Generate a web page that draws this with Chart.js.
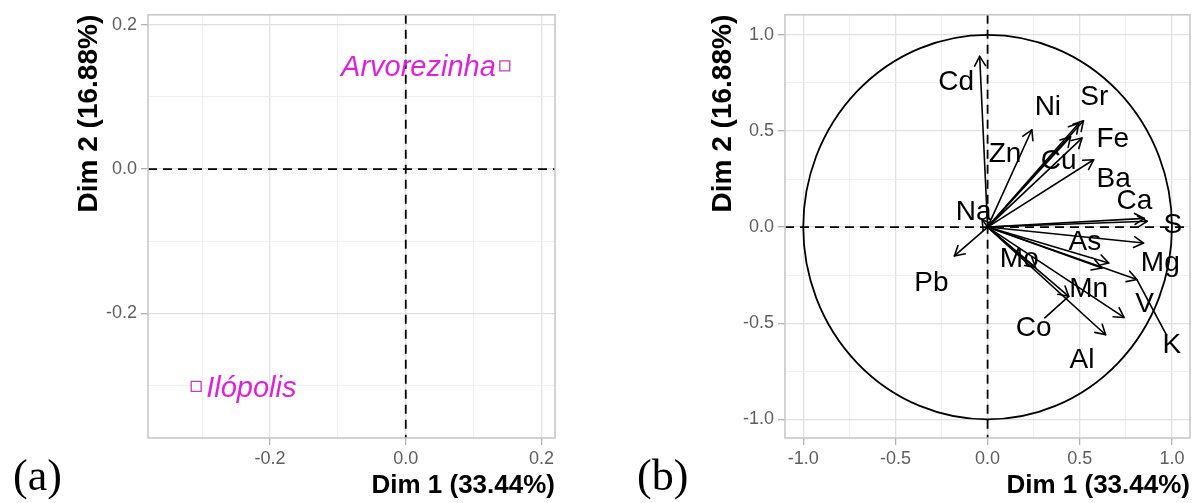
<!DOCTYPE html>
<html><head><meta charset="utf-8">
<script src="https://cdn.jsdelivr.net/npm/chart.js@4.4.0/dist/chart.umd.min.js"></script>
<style>
html,body{margin:0;padding:0;background:#fff;}
#wrap{position:relative;width:1192px;height:503px;overflow:hidden;background:#fff;}
canvas{position:absolute;top:0;}
</style></head><body>
<div id="wrap">
<canvas id="ca" width="596" height="503" style="left:0px"></canvas>
<canvas id="cb" width="596" height="503" style="left:596px"></canvas>
</div>
<script>
// ---------- Panel (a): individuals ----------
const indNames = ['Arvorezinha', 'Ilópolis'];
const indDim1 = [0.146, -0.309];
const indDim2 = [0.143, -0.301];
const xMajorA = [-0.2, 0.0, 0.2];
const xMinorA = [-0.3, -0.1, 0.1];
const yMajorA = [-0.2, 0.0, 0.2];
const yMinorA = [-0.3, -0.1, 0.1];

// ---------- Panel (b): variables ----------
const varNames = ['Cd','Zn','Ni','Sr','Cu','Fe','Ba','Ca','S','Na','As','Mg','Mo','Mn','V','K','Co','Al','Pb'];
const varDim1 = [-0.043, 0.24, 0.495, 0.52, 0.45, 0.512, 0.575, 0.85, 0.866, -0.03, 0.657, 0.846, 0.26, 0.62, 0.74, 0.81, 0.44, 0.64, -0.18];
const varDim2 = [0.888, 0.506, 0.54, 0.553, 0.47, 0.463, 0.35, 0.045, 0.03, 0.04, -0.187, -0.083, -0.21, -0.213, -0.47, -0.273, -0.36, -0.56, -0.15];
// repelled label positions (data units)
const varLabelDim1 = [-0.171, 0.095, 0.327, 0.579, 0.385, 0.679, 0.684, 0.796, 1.005, -0.076, 0.528, 0.937, 0.172, 0.548, 0.851, 1.0, 0.25, 0.512, -0.305];
const varLabelDim2 = [0.752, 0.381, 0.622, 0.674, 0.341, 0.454, 0.246, 0.133, 0.009, 0.077, -0.078, -0.188, -0.165, -0.321, -0.399, -0.614, -0.524, -0.692, -0.291];
const xMajorB = [-1.0, -0.5, 0.0, 0.5, 1.0];
const xMinorB = [-0.75, -0.25, 0.25, 0.75];
const yMajorB = [-1.0, -0.5, 0.0, 0.5, 1.0];
const yMinorB = [-0.75, -0.25, 0.25, 0.75];
const circleRadius = 1;

const xTitle = 'Dim 1 (33.44%)';
const yTitle = 'Dim 2 (16.88%)';

const FONT = "'Liberation Sans', Arial, Helvetica, sans-serif";

function isIn(list, v) { return list.some(m => Math.abs(m - v) < 1e-9); }

function axis(pos, min, max, major, minor, title, titleSize, tickPad, fitSize, titlePad) {
  const all = major.concat(minor).sort((a, b) => a - b);
  return {
    type: 'linear', position: pos, min: min, max: max, bounds: 'data',
    afterBuildTicks: (ax) => { ax.ticks = all.map(v => ({ value: v })); },
    afterFit: (ax) => { if (pos === 'bottom') ax.height = fitSize; else ax.width = fitSize; },
    ticks: {
      autoSkip: false, maxRotation: 0, padding: tickPad, color: '#5E5E5E',
      font: { family: FONT, size: 18 },
      callback: (v) => isIn(major, v) ? Number(v).toFixed(1) : ''
    },
    grid: {
      drawTicks: true, tickLength: 7,
      color: (c) => (c.tick && isIn(major, c.tick.value)) ? '#E0E0E0' : '#EFEFEF',
      lineWidth: (c) => (c.tick && isIn(major, c.tick.value)) ? 1.3 : 1,
      tickColor: (c) => (c.tick && isIn(major, c.tick.value)) ? '#B3B3B3' : 'rgba(0,0,0,0)',
      tickWidth: 1.3
    },
    border: { display: false },
    title: {
      display: true, text: title, align: 'end', color: '#000000',
      font: { family: FONT, size: titleSize, weight: 'bold' }, padding: titlePad
    }
  };
}

function drawZeroAndFrame(chart) {
  const { ctx, chartArea: a, scales: { x, y } } = chart;
  ctx.save();
  const x0 = x.getPixelForValue(0), y0 = y.getPixelForValue(0);
  ctx.strokeStyle = '#000'; ctx.lineWidth = 1.8; ctx.setLineDash([9, 6]);
  ctx.beginPath();
  ctx.moveTo(a.left, y0); ctx.lineTo(a.right, y0);
  ctx.moveTo(x0, a.top); ctx.lineTo(x0, a.bottom);
  ctx.stroke();
  ctx.setLineDash([]);
  ctx.strokeStyle = '#C9C9C9'; ctx.lineWidth = 1.6;
  ctx.strokeRect(a.left, a.top, a.right - a.left, a.bottom - a.top);
  ctx.restore();
}

function panelTag(text, px) {
  return {
    id: 'tag' + text.replace(/\W/g, ''),
    afterDraw(chart) {
      const ctx = chart.ctx;
      ctx.save();
      ctx.font = "44px 'Liberation Serif', 'Times New Roman', serif";
      ctx.fillStyle = '#000'; ctx.textBaseline = 'alphabetic'; ctx.textAlign = 'left';
      ctx.fillText(text, px, 490);
      ctx.restore();
    }
  };
}

const indPlugin = {
  id: 'indPlugin',
  beforeDatasetsDraw(chart) { drawZeroAndFrame(chart); },
  afterDatasetsDraw(chart) {
    const ctx = chart.ctx;
    const pts = chart.getDatasetMeta(0).data;
    ctx.save();
    ctx.font = 'italic 29px ' + FONT;
    ctx.fillStyle = '#DD22DD';
    ctx.textBaseline = 'middle';
    indNames.forEach((n, i) => {
      const p = pts[i];
      if (indDim1[i] > 0) { ctx.textAlign = 'right'; ctx.fillText(n, p.x - 9, p.y + 2); }
      else { ctx.textAlign = 'left'; ctx.fillText(n, p.x + 10, p.y + 3); }
    });
    ctx.restore();
  }
};

const varPlugin = {
  id: 'varPlugin',
  beforeDatasetsDraw(chart) {
    const { ctx, scales: { x, y } } = chart;
    const cx = x.getPixelForValue(0), cy = y.getPixelForValue(0);
    const rx = x.getPixelForValue(circleRadius) - cx, ry = cy - y.getPixelForValue(circleRadius);
    ctx.save();
    ctx.strokeStyle = '#000'; ctx.lineWidth = 1.8;
    ctx.beginPath(); ctx.ellipse(cx, cy, rx, ry, 0, 0, Math.PI * 2); ctx.stroke();
    ctx.restore();
    drawZeroAndFrame(chart);
  },
  afterDatasetsDraw(chart) {
    const { ctx, scales: { x, y } } = chart;
    const tips = chart.getDatasetMeta(0).data;
    const labs = chart.getDatasetMeta(1).data;
    const ox = x.getPixelForValue(0), oy = y.getPixelForValue(0);
    ctx.save();
    ctx.strokeStyle = '#000'; ctx.lineWidth = 1.6; ctx.lineCap = 'round'; ctx.lineJoin = 'round';
    tips.forEach((t) => {
      ctx.beginPath(); ctx.moveTo(ox, oy); ctx.lineTo(t.x, t.y); ctx.stroke();
      const ang = Math.atan2(t.y - oy, t.x - ox), L = 11, a = Math.PI / 6;
      ctx.beginPath();
      ctx.moveTo(t.x - L * Math.cos(ang - a), t.y - L * Math.sin(ang - a));
      ctx.lineTo(t.x, t.y);
      ctx.lineTo(t.x - L * Math.cos(ang + a), t.y - L * Math.sin(ang + a));
      ctx.stroke();
    });
    ctx.font = '28px ' + FONT;
    ctx.textAlign = 'center'; ctx.textBaseline = 'middle'; ctx.fillStyle = '#000';
    varNames.forEach((name, i) => {
      const t = tips[i], l = labs[i];
      const hw = ctx.measureText(name).width / 2, hh = 10;
      const dx = Math.max(Math.abs(t.x - l.x) - hw, 0), dy = Math.max(Math.abs(t.y - l.y) - hh, 0);
      if (Math.hypot(dx, dy) > 22) {
        const vx = t.x - l.x, vy = t.y - l.y;
        const s = Math.min(hw / Math.max(Math.abs(vx), 1e-6), hh / Math.max(Math.abs(vy), 1e-6));
        ctx.beginPath(); ctx.moveTo(t.x, t.y); ctx.lineTo(l.x + vx * s, l.y + vy * s); ctx.stroke();
      }
      ctx.fillText(name, l.x, l.y);
    });
    ctx.restore();
  }
};

new Chart(document.getElementById('ca'), {
  type: 'scatter',
  data: {
    datasets: [{
      data: indNames.map((n, i) => ({ x: indDim1[i], y: indDim2[i] })),
      pointStyle: 'rect', pointRadius: 7, pointBorderWidth: 1.3,
      pointBorderColor: '#C63AC6', pointBackgroundColor: 'rgba(0,0,0,0)'
    }]
  },
  options: {
    responsive: false, animation: false, events: [],
    layout: { padding: { left: 72, right: 41, top: 14, bottom: 0 } },
    plugins: { legend: { display: false }, tooltip: { enabled: false } },
    scales: {
      x: axis('bottom', -0.38, 0.22, xMajorA, xMinorA, xTitle, 26, 3, 65, { top: 0, bottom: 2 }),
      y: axis('left', -0.3725, 0.2138, yMajorA, yMinorA, yTitle, 28, 4, 76, { top: 0, bottom: 0 })
    }
  },
  plugins: [indPlugin, panelTag('(a)', 13)]
});

new Chart(document.getElementById('cb'), {
  type: 'scatter',
  data: {
    datasets: [
      { data: varNames.map((n, i) => ({ x: varDim1[i], y: varDim2[i] })), pointRadius: 0 },
      { data: varNames.map((n, i) => ({ x: varLabelDim1[i], y: varLabelDim2[i] })), pointRadius: 0 }
    ]
  },
  options: {
    responsive: false, animation: false, events: [],
    layout: { padding: { left: 110, right: 2, top: 14, bottom: 0 } },
    plugins: { legend: { display: false }, tooltip: { enabled: false } },
    scales: {
      x: axis('bottom', -1.099, 1.098, xMajorB, xMinorB, xTitle, 26, 3, 65, { top: 0, bottom: 2 }),
      y: axis('left', -1.097, 1.104, yMajorB, yMinorB, yTitle, 28, 4, 79, { top: 0, bottom: 0 })
    }
  },
  plugins: [varPlugin, panelTag('(b)', 41)]
});
</script>
</body></html>
